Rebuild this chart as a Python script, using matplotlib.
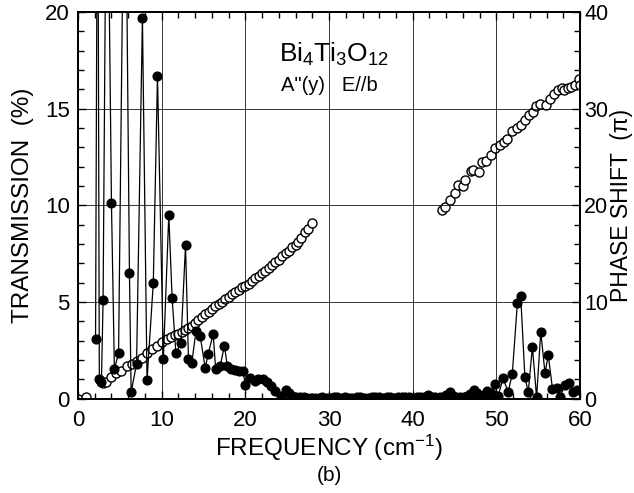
import matplotlib
matplotlib.use("Agg")
import matplotlib.pyplot as plt
from matplotlib.ticker import MultipleLocator

plt.rcParams['font.family'] = ['Liberation Sans', 'DejaVu Sans']
plt.rcParams['mathtext.fontset'] = 'custom'
plt.rcParams['mathtext.rm'] = 'Liberation Sans'
plt.rcParams['mathtext.it'] = 'Liberation Sans:italic'
plt.rcParams['mathtext.default'] = 'regular'

# transmission (%), filled dots; values > 20 run off the top of the frame
trans_freq = [2.1, 2.35, 2.55, 2.8, 3.0, 3.45, 4.0, 4.35, 4.85, 5.6, 6.15, 6.35,
              7.0, 7.7, 8.25, 9.0, 9.5, 10.2, 10.85, 11.25, 11.7, 12.3, 12.85,
              13.2, 13.6, 14.1, 14.6, 15.2, 15.55, 16.15, 16.45, 17.0, 17.5,
              17.85, 18.3, 18.8, 19.3, 19.7, 20.0, 20.55, 21.1, 21.55, 22.05,
              22.55, 23.1, 23.6, 24.3, 24.85, 25.25, 25.6, 26.1, 26.5, 27.0,
              27.4, 27.9, 28.3, 28.8, 29.2, 29.7, 30.1, 30.6, 31.0, 31.5, 31.9,
              32.4, 32.8, 33.3, 33.7, 34.2, 34.6, 35.1, 35.5, 36.0, 36.4, 36.9,
              37.3, 37.8, 38.2, 38.7, 39.1, 39.6, 40.0, 40.5, 40.9, 41.4, 41.8,
              42.3, 42.7, 43.2, 43.6, 44.0, 44.4, 44.8, 45.2, 45.7, 46.1, 46.5,
              46.9, 47.3, 47.7, 48.1, 48.5, 48.9, 49.3, 49.8, 50.2, 50.8, 51.4,
              51.9, 52.5, 52.9, 53.4, 53.8, 54.3, 54.8, 55.3, 55.8, 56.2, 56.7,
              57.2, 57.6, 58.2, 58.7, 59.1, 59.6]
trans_val = [3.1, 32, 1.05, 0.85, 5.1, 32, 10.1, 1.55, 2.35, 32, 6.5, 0.35,
             1.8, 19.7, 0.95, 6.0, 16.7, 2.05, 9.5, 5.2, 2.35, 2.9, 7.95,
             2.07, 1.86, 3.5, 3.25, 1.6, 2.3, 3.35, 1.55, 1.72, 2.75,
             1.68, 1.55, 1.48, 1.43, 1.45, 0.72, 1.09, 0.9, 1.0, 1.02,
             0.85, 0.66, 0.4, 0.15, 0.48, 0.3, 0.17, 0.1, 0.07, 0.08,
             0.05, 0.06, 0.04, 0.05, 0.07, 0.05, 0.06, 0.09, 0.07, 0.05, 0.08,
             0.06, 0.04, 0.07, 0.1, 0.06, 0.05, 0.08, 0.1, 0.07, 0.05, 0.09,
             0.1, 0.06, 0.08, 0.11, 0.07, 0.09, 0.06, 0.1, 0.08, 0.12, 0.18,
             0.1, 0.07, 0.12, 0.12, 0.22, 0.33, 0.15, 0.08, 0.1, 0.07, 0.15,
             0.25, 0.48, 0.3, 0.12, 0.2, 0.42, 0.3, 0.78, 0.15, 1.07, 0.35,
             1.3, 4.93, 5.33, 1.13, 0.35, 2.68, 0.08, 3.47, 1.35, 2.25, 0.52,
             0.55, 0.1, 0.7, 0.83, 0.33, 0.48]

# phase shift (units of pi), open circles, two branches
phase_freq_lo = [0.0, 1.0, 2.7, 3.0, 3.3, 3.9, 4.5, 5.1, 5.8, 6.4, 7.0, 7.6,
                 8.2, 8.8, 9.4, 10.0, 10.6, 11.1, 11.6, 12.0, 12.4, 12.8, 13.2,
                 13.6, 14.0, 14.4, 14.8, 15.2, 15.6, 16.0, 16.4, 16.8, 17.2,
                 17.6, 18.0, 18.4, 18.8, 19.2, 19.6, 20.0, 20.4, 20.8, 21.2,
                 21.6, 22.0, 22.4, 22.8, 23.2, 23.6, 24.0, 24.4, 24.8, 25.2,
                 25.6, 26.0, 26.3, 26.7, 27.1, 27.5, 27.95]
phase_val_lo = [0.0, 0.15, 1.8, 1.6, 1.7, 2.3, 2.7, 2.9, 3.4, 3.65, 3.9, 4.25,
                4.7, 5.1, 5.45, 5.85, 6.2, 6.35, 6.55, 6.7, 6.9, 7.1, 7.3,
                7.5, 7.85, 8.2, 8.5, 8.75, 8.95, 9.3, 9.55, 9.8, 10.05,
                10.3, 10.5, 10.8, 11.05, 11.25, 11.55, 11.7, 11.9, 12.2, 12.45,
                12.7, 13.0, 13.2, 13.5, 13.8, 14.1, 14.4, 14.75, 15.05, 15.3,
                15.65, 15.95, 16.2, 16.65, 17.2, 17.6, 18.2]
phase_freq_hi = [43.45, 43.8, 44.4, 45.0, 45.4, 46.0, 46.2, 47.0, 47.25, 47.9,
                 48.3, 48.8, 49.3, 49.85, 50.4, 50.9, 51.3, 51.9, 52.4, 52.9,
                 53.45, 53.9, 54.4, 54.75, 55.25, 55.9, 56.4, 56.9, 57.4, 57.8,
                 58.1, 58.6, 58.95, 59.35, 59.85, 59.95]
phase_val_hi = [19.5, 19.85, 20.6, 21.3, 22.1, 21.95, 22.6, 23.5, 23.65, 23.4,
                24.45, 24.55, 25.25, 25.9, 26.2, 26.55, 26.9, 27.7, 28.0, 28.35,
                28.8, 29.3, 29.65, 30.3, 30.5, 30.35, 31.0, 31.5, 31.95, 32.1,
                31.9, 32.1, 32.25, 32.4, 33.1, 32.45]

fig = plt.figure(figsize=(6.34, 4.93), dpi=100)
ax = fig.add_axes([0.123, 0.191, 0.792, 0.785])
ax2 = ax.twinx()

ax.plot(trans_freq, trans_val, '-o', color='black', lw=0.9,
        markersize=6.3, zorder=3)
ax2.plot(phase_freq_lo, phase_val_lo, 'o', mfc='white', mec='black',
         markersize=6.5, mew=1)
ax2.plot(phase_freq_hi, phase_val_hi, 'o', mfc='white', mec='black',
         markersize=6.5, mew=1)

# left axis drawn on top so the filled dots sit over the open circles
ax.set_zorder(ax2.get_zorder() + 1)
ax.patch.set_visible(False)

ax.set_xlim(0, 60)
ax.set_ylim(0, 20)
ax2.set_ylim(0, 40)

ax.xaxis.set_major_locator(MultipleLocator(10))
ax.xaxis.set_minor_locator(MultipleLocator(2))
ax.yaxis.set_major_locator(MultipleLocator(5))
ax.yaxis.set_minor_locator(MultipleLocator(1))
ax2.yaxis.set_major_locator(MultipleLocator(10))
ax2.yaxis.set_minor_locator(MultipleLocator(2))

ax.grid(True, which='major', color='black', lw=0.7, alpha=0.8)

ax.tick_params(which='both', direction='in', top=True, labelsize=16, pad=6)
ax.tick_params(axis='x', pad=8)
ax.tick_params(which='major', length=6, width=1)
ax.tick_params(which='minor', length=4, width=1)
ax2.tick_params(which='both', direction='in', labelsize=15.5, pad=3)
ax2.tick_params(which='major', length=6, width=1)
ax2.tick_params(which='minor', length=4, width=1)

for a in (ax, ax2):
    for s in a.spines.values():
        s.set_linewidth(1.3)

ax.set_xlabel('FREQUENCY (cm$^{-1}$)', fontsize=17.5, labelpad=1)
ax.set_ylabel('TRANSMISSION  (%)', fontsize=17.5, labelpad=8)
ax2.set_ylabel('PHASE SHIFT  (\u03c0)', fontsize=16.5, labelpad=1)

ax.text(30.6, 17.8, 'Bi$_4$Ti$_3$O$_{12}$', fontsize=19, ha='center', va='center')
ax.text(30.0, 16.2, 'A"(y)   E//b', fontsize=14.5, ha='center', va='center')

fig.text(0.52, 0.035, '(b)', fontsize=15, ha='center', va='center')

fig.savefig('out.png', dpi=100)
